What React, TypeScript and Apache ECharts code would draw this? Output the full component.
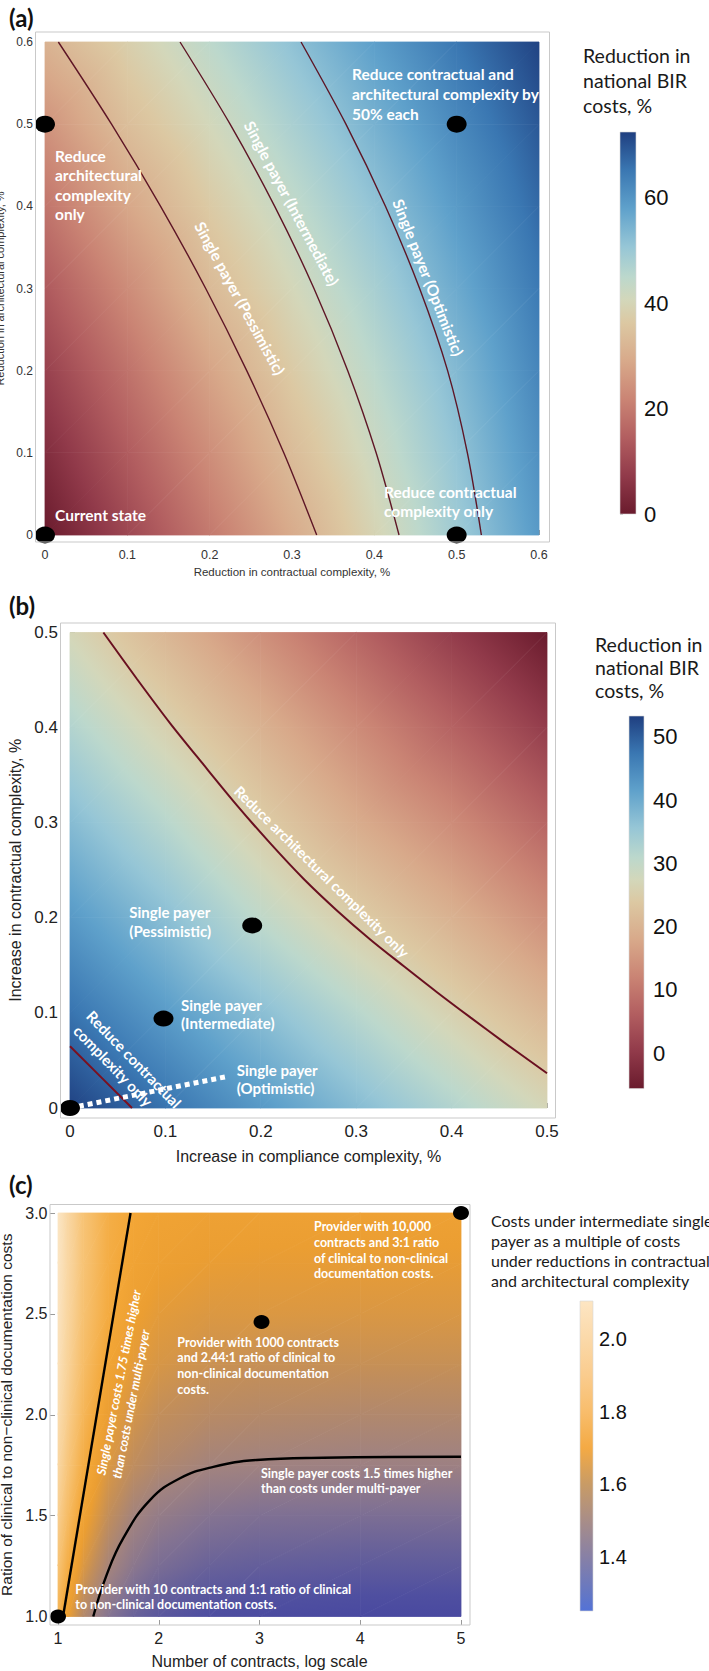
import React, { useEffect, useRef } from "react";
import * as echarts from "echarts";

// ================= Panel (a) data =================
const aXValues = [0, 0.1, 0.2, 0.3, 0.4, 0.5, 0.6];
const aYValues = [0, 0.1, 0.2, 0.3, 0.4, 0.5, 0.6];
// rows follow aYValues, columns follow aXValues (reduction in national BIR costs, %)
const aCells = [
  [0.0, 9.8, 19.7, 29.5, 39.4, 49.3, 59.3],
  [4.2, 14.0, 23.7, 33.4, 42.2, 51.1, 61.0],
  [8.7, 18.4, 28.1, 36.9, 45.0, 53.3, 62.8],
  [13.6, 23.3, 32.9, 40.4, 48.0, 56.2, 64.8],
  [18.9, 28.6, 36.8, 43.9, 51.3, 59.1, 67.0],
  [24.7, 33.8, 40.7, 47.7, 54.8, 62.1, 69.3],
  [31.3, 38.1, 44.8, 51.6, 58.4, 65.2, 72.0],
];
const aPessimistic = [[0.33, 0], [0.29, 0.1], [0.245, 0.2], [0.1952, 0.3], [0.1404, 0.4], [0.0808, 0.5], [0.0162, 0.6]];
const aIntermediate = [[0.43, 0], [0.4022, 0.1], [0.3677, 0.2], [0.3267, 0.3], [0.279, 0.4], [0.2248, 0.5], [0.164, 0.6]];
const aOptimistic = [[0.53, 0], [0.513, 0.1], [0.489, 0.2], [0.455, 0.3], [0.4135, 0.4], [0.3655, 0.5], [0.311, 0.6]];
const aScenarios = [[0, 0], [0, 0.5], [0.5, 0], [0.5, 0.5]];
const aLegendRange = [0, 72.5];
const aLegendLabels = [0, 20, 40, 60];
const aLegendTicks = [0, 10, 20, 30, 40, 50, 60, 70];

// ================= Panel (b) data =================
const bXValues = [0, 0.1, 0.2, 0.3, 0.4, 0.5];
const bYValues = [0, 0.1, 0.2, 0.3, 0.4, 0.5];
const bCells = [
  [53.0, 47.8, 42.6, 37.4, 32.2, 27.0],
  [47.8, 42.3, 36.9, 31.4, 25.9, 20.4],
  [42.6, 36.9, 30.4, 24.8, 19.6, 13.9],
  [37.4, 31.4, 24.8, 18.6, 13.3, 7.3],
  [32.2, 25.9, 19.6, 13.3, 7.0, 0.7],
  [27.0, 20.4, 13.9, 7.3, 0.7, -5.6],
];
const bArchitecturalOnly = [[0.035, 0.5], [0.07, 0.4514], [0.105, 0.4045], [0.14, 0.361], [0.175, 0.3183], [0.21, 0.2782], [0.245, 0.2408], [0.28, 0.2075], [0.315, 0.177], [0.35, 0.149], [0.385, 0.1215], [0.42, 0.095], [0.455, 0.069], [0.5, 0.0365]];
const bContractualOnly = [[0, 0.065], [0.0325, 0.0325], [0.065, 0]];
const bOptimisticLink = [[0, 0], [0.164, 0.033]];
const bScenarios = [[0, 0], [0.098, 0.094], [0.191, 0.192]];
const bLegendRange = [-5.6, 53.3];
const bLegendLabels = [0, 10, 20, 30, 40, 50];
const bLegendTicks = [-5, 0, 5, 10, 15, 20, 25, 30, 35, 40, 45, 50];

// ================= Panel (c) data =================
const cXValues = [1, 1.1, 1.25, 1.5, 1.75, 2, 2.5, 3, 4, 5];
const cYValues = [1, 1.25, 1.5, 1.75, 2, 2.25, 2.5, 2.75, 3];
const cCells = [
  [1.81, 1.70, 1.56, 1.41, 1.31, 1.25, 1.19, 1.17, 1.15, 1.15],
  [1.88, 1.78, 1.66, 1.52, 1.43, 1.37, 1.31, 1.29, 1.27, 1.27],
  [1.94, 1.84, 1.73, 1.60, 1.51, 1.46, 1.41, 1.39, 1.38, 1.38],
  [1.99, 1.89, 1.78, 1.66, 1.59, 1.55, 1.51, 1.50, 1.49, 1.49],
  [2.03, 1.93, 1.82, 1.70, 1.64, 1.60, 1.57, 1.56, 1.55, 1.55],
  [2.06, 1.96, 1.85, 1.74, 1.68, 1.65, 1.62, 1.61, 1.61, 1.61],
  [2.08, 1.98, 1.87, 1.77, 1.71, 1.68, 1.66, 1.66, 1.655, 1.655],
  [2.095, 1.99, 1.88, 1.78, 1.73, 1.71, 1.695, 1.69, 1.69, 1.69],
  [2.10, 1.99, 1.88, 1.785, 1.75, 1.73, 1.72, 1.72, 1.72, 1.72],
];
const cLine175 = [[1.05, 1.0], [1.72, 3.0]];
const cLine150 = [[1.35, 1.0], [1.483, 1.206], [1.648, 1.388], [1.913, 1.577], [2.211, 1.685], [2.542, 1.742], [2.972, 1.776], [3.633, 1.787], [5, 1.792]];
const cScenarios = [[1, 1], [3.02, 2.46], [5, 3]];
const cLegendRange = [1.253, 2.103];
const cLegendLabels = [1.4, 1.6, 1.8, 2.0];
const cLegendTicks = [1.3, 1.35, 1.4, 1.45, 1.5, 1.55, 1.6, 1.65, 1.7, 1.75, 1.8, 1.85, 1.9, 1.95, 2.0, 2.05, 2.1];

// ================= Colour scales =================
const redBlueTonesPos = [0, 0.1, 0.2, 0.3, 0.4, 0.5, 0.56, 0.62, 0.7, 0.8, 0.9, 1];
const redBlueTonesHex = ["#6a1b2d", "#913a4a", "#b25e60", "#ca8474", "#d8a98a", "#dcc8a2", "#d3d7ba", "#bcd8cc", "#96c6d6", "#5fa1cb", "#3a77b2", "#1f3f80"];
const cHeatStops = [1.1, 1.2, 1.3, 1.4, 1.5, 1.6, 1.7, 1.75, 1.85, 1.95, 2.05, 2.12];
const cHeatHex = ["#4444a0", "#4f4fa0", "#66609a", "#827292", "#a08280", "#c28e5a", "#eb9e32", "#f3a636", "#f6bd68", "#f8d094", "#fadfb6", "#fbe7c8"];
const cBarStops = [1.25, 1.3, 1.4, 1.5, 1.6, 1.7, 1.8, 1.9, 2.0, 2.1];
const cBarHex = ["#5272d8", "#6477c4", "#8780a6", "#a88d88", "#c89b66", "#f4aa44", "#f8bd6c", "#facc8e", "#fbd9a9", "#fde5c2"];

const FONT_CAL = "Lato, 'Noto Sans', sans-serif";
const FONT_ARIAL = "'Liberation Sans', Arial, sans-serif";

type CMap = { vals: number[]; cols: number[][] };
function parseHex(h: string) {
  const n = parseInt(h.slice(1), 16);
  return [(n >> 16) & 255, (n >> 8) & 255, n & 255];
}
function makeCMap(vals: number[], hex: string[]): CMap {
  return { vals, cols: hex.map(parseHex) };
}
function scaledCMap(range: number[], pos: number[], hex: string[]): CMap {
  return makeCMap(pos.map((t) => range[0] + t * (range[1] - range[0])), hex);
}
function colorAt(cm: CMap, v: number): string {
  const { vals, cols } = cm;
  const rgb = (c: number[]) => `rgb(${Math.round(c[0])},${Math.round(c[1])},${Math.round(c[2])})`;
  if (v <= vals[0]) return rgb(cols[0]);
  if (v >= vals[vals.length - 1]) return rgb(cols[cols.length - 1]);
  for (let k = 0; k < vals.length - 1; k++) {
    if (v <= vals[k + 1]) {
      const t = (v - vals[k]) / (vals[k + 1] - vals[k]);
      return rgb([0, 1, 2].map((q) => cols[k][q] + (cols[k + 1][q] - cols[k][q]) * t));
    }
  }
  return rgb(cols[cols.length - 1]);
}
function gradientStops(cm: CMap, lo: number, hi: number) {
  const stops = [{ offset: 0, color: colorAt(cm, lo) }];
  for (const s of cm.vals) if (s > lo && s < hi) stops.push({ offset: (s - lo) / (hi - lo), color: colorAt(cm, s) });
  stops.push({ offset: 1, color: colorAt(cm, hi) });
  return stops;
}
function triFill(cm: CMap, p0: number[], p1: number[], p2: number[]): any {
  const e1x = p1[0] - p0[0], e1y = p1[1] - p0[1], e2x = p2[0] - p0[0], e2y = p2[1] - p0[1];
  const d1 = p1[2] - p0[2], d2 = p2[2] - p0[2];
  const det = e1x * e2y - e1y * e2x;
  const lo = Math.min(p0[2], p1[2], p2[2]);
  const hi = Math.max(p0[2], p1[2], p2[2]);
  if (Math.abs(det) < 1e-9 || hi - lo < 1e-7) return colorAt(cm, (p0[2] + p1[2] + p2[2]) / 3);
  const gx = (d1 * e2y - e1y * d2) / det;
  const gy = (e1x * d2 - d1 * e2x) / det;
  const g2 = gx * gx + gy * gy;
  const a = (lo - p0[2]) / g2, b = (hi - p0[2]) / g2;
  return {
    type: "linear", global: true,
    x: p0[0] + gx * a, y: p0[1] + gy * a, x2: p0[0] + gx * b, y2: p0[1] + gy * b,
    colorStops: gradientStops(cm, lo, hi),
  };
}

function heatSeries(idx: number, xs: number[], ys: number[], cells: number[][], cm: CMap) {
  const data: number[][] = [];
  for (let j = 0; j < ys.length - 1; j++) for (let i = 0; i < xs.length - 1; i++) data.push([xs[i], ys[j], i, j]);
  return {
    type: "custom", xAxisIndex: idx, yAxisIndex: idx, silent: true, z: 1, clip: false, data,
    renderItem: (_p: any, api: any) => {
      const i = api.value(2), j = api.value(3);
      const pt = (ii: number, jj: number) => {
        const c = api.coord([xs[ii], ys[jj]]);
        return [c[0], c[1], cells[jj][ii]];
      };
      const A = pt(i, j), B = pt(i + 1, j), C = pt(i + 1, j + 1), D = pt(i, j + 1);
      const tri = (p0: number[], p1: number[], p2: number[]) => ({
        type: "polygon",
        shape: { points: [[p0[0], p0[1]], [p1[0], p1[1]], [p2[0], p2[1]]] },
        style: { fill: triFill(cm, p0, p1, p2), stroke: triFill(cm, p0, p1, p2), lineWidth: 0.8 },
      });
      return { type: "group", children: [tri(A, B, C), tri(A, C, D)] };
    },
  };
}

function barSeries(idx: number, range: number[], cm: CMap) {
  return {
    type: "custom", xAxisIndex: idx, yAxisIndex: idx, silent: true, clip: false, z: 1,
    data: [[0, range[0], 1, range[1]]],
    renderItem: (_p: any, api: any) => {
      const lo = api.coord([api.value(0), api.value(1)]);
      const hi = api.coord([api.value(2), api.value(3)]);
      const stops = gradientStops(cm, range[0], range[1]).map((s) => ({ offset: 1 - s.offset, color: s.color })).reverse();
      return {
        type: "rect",
        shape: { x: lo[0], y: hi[1], width: hi[0] - lo[0], height: lo[1] - hi[1] },
        style: { fill: { type: "linear", x: 0, y: 0, x2: 0, y2: 1, colorStops: stops }, stroke: "#d6d6d6", lineWidth: 0.6 },
      };
    },
  };
}

function lineSeries(idx: number, data: number[][], color: string, width: number, smooth: number, extra: any = {}) {
  return {
    type: "line", xAxisIndex: idx, yAxisIndex: idx, data, showSymbol: false, symbol: "none", silent: true,
    smooth, z: 3, clip: true,
    lineStyle: { color, width, ...extra },
  };
}
function dotSeries(idx: number, data: number[][], size: number[]) {
  return {
    type: "scatter", xAxisIndex: idx, yAxisIndex: idx, data, symbol: "circle", symbolSize: size,
    itemStyle: { color: "#000", opacity: 1 }, z: 6, clip: false, silent: true,
  };
}

function plotAxis(kind: "x" | "y", idx: number, o: any) {
  return {
    type: "value", gridIndex: idx, min: o.min, max: o.max, interval: o.interval,
    position: kind === "x" ? "bottom" : "left", offset: o.offset,
    axisLine: { show: false }, splitLine: { show: false },
    axisTick: { show: true, inside: true, length: 5, lineStyle: { color: "#9a9a9a", width: 1 } },
    axisLabel: { show: true, margin: o.margin, color: o.color || "#222", fontFamily: o.font, fontSize: o.size, formatter: o.fmt },
    name: o.name, nameLocation: "middle", nameGap: o.nameGap,
    nameTextStyle: { color: o.color || "#222", fontFamily: o.font, fontSize: o.nameSize },
  };
}
function barAxes(idx: number, range: number[], labels: number[], ticks: number[], size: number, margin: number, fmt?: any) {
  return {
    x: { type: "value", gridIndex: idx, min: 0, max: 1, show: false },
    y: {
      type: "value", gridIndex: idx, min: range[0], max: range[1], position: "right",
      axisLine: { show: false }, splitLine: { show: false },
      axisTick: { show: true, length: 3, customValues: ticks, lineStyle: { color: "#c8c8c8" } },
      axisLabel: { show: true, customValues: labels, margin, color: "#111", fontFamily: FONT_ARIAL, fontSize: size, formatter: fmt },
    },
  };
}

function txt(x: number, y: number, text: string, font: string, o: any = {}) {
  return {
    type: "text", x, y, z: 50, silent: true, rotation: ((o.rot || 0) * Math.PI) / 180,
    style: {
      text, font, fill: o.fill || "#fff", align: o.align || "left", verticalAlign: o.va || "top",
      lineHeight: o.lh,
    },
  };
}
function frame(x: number, y: number, w: number, h: number) {
  return { type: "rect", z: 40, silent: true, shape: { x, y, width: w, height: h }, style: { fill: "none", stroke: "#c9c9c9", lineWidth: 1 } };
}

function buildOption() {
  const cmA = scaledCMap(aLegendRange, redBlueTonesPos, redBlueTonesHex);
  const cmB = scaledCMap(bLegendRange, redBlueTonesPos, redBlueTonesHex);
  const cmC = makeCMap(cHeatStops, cHeatHex);
  const cmCBar = makeCMap(cBarStops, cBarHex);
  const one = (v: number) => v.toFixed(1);

  const barA = barAxes(1, aLegendRange, aLegendLabels, aLegendTicks, 22, 8);
  const barB = barAxes(3, bLegendRange, bLegendLabels, bLegendTicks, 22, 9);
  const barC = barAxes(5, cLegendRange, cLegendLabels, cLegendTicks, 20, 6, one);

  const B15 = `bold 15.5px ${FONT_CAL}`;
  const B15b = `bold 15px ${FONT_CAL}`;
  const B12 = `bold 12.5px ${FONT_CAL}`;
  const I12 = `italic bold 12.5px ${FONT_CAL}`;
  const PANEL = `bold 24px ${FONT_CAL}`;

  return {
    animation: false,
    backgroundColor: "#ffffff",
    grid: [
      { left: 45, top: 42, width: 494, height: 493, containLabel: false, outerBoundsMode: "none" },
      { left: 620, top: 132, width: 16, height: 382, containLabel: false, outerBoundsMode: "none" },
      { left: 70, top: 632.5, width: 477, height: 475.5, containLabel: false, outerBoundsMode: "none" },
      { left: 629, top: 716, width: 15, height: 372.6, containLabel: false, outerBoundsMode: "none" },
      { left: 58, top: 1213, width: 403, height: 403.5, containLabel: false, outerBoundsMode: "none" },
      { left: 580, top: 1301, width: 13, height: 310, containLabel: false, outerBoundsMode: "none" },
    ],
    xAxis: [
      plotAxis("x", 0, { min: 0, max: 0.6, interval: 0.1, offset: 7, margin: 6, font: FONT_ARIAL, size: 12.5, color: "#333", name: "Reduction in contractual complexity, %", nameSize: 11.5, nameGap: 24 }),
      barA.x,
      plotAxis("x", 2, { min: 0, max: 0.5, interval: 0.1, offset: 10, margin: 5, font: FONT_ARIAL, size: 17, name: "Increase in compliance complexity, %", nameSize: 16, nameGap: 30 }),
      barB.x,
      plotAxis("x", 4, { min: 1, max: 5, interval: 1, offset: 8.5, margin: 5, font: FONT_ARIAL, size: 16, name: "Number of contracts, log scale", nameSize: 16, nameGap: 28 }),
      barC.x,
    ],
    yAxis: [
      plotAxis("y", 0, { min: 0, max: 0.6, interval: 0.1, offset: 10, margin: 2, font: FONT_ARIAL, size: 12, color: "#333", name: "Reduction in architectural complexity, %", nameSize: 11, nameGap: 17 }),
      barA.y,
      plotAxis("y", 2, { min: 0, max: 0.5, interval: 0.1, offset: 10, margin: 2, font: FONT_ARIAL, size: 17, name: "Increase in contractual complexity, %", nameSize: 16, nameGap: 33 }),
      barB.y,
      plotAxis("y", 4, { min: 1, max: 3, interval: 0.5, offset: 8, margin: 2.5, font: FONT_ARIAL, size: 16, fmt: one, name: "Ration of clinical to non\u2212clinical documentation costs", nameSize: 15.5, nameGap: 25.5 }),
      barC.y,
    ],
    series: [
      heatSeries(0, aXValues, aYValues, aCells, cmA),
      lineSeries(0, aPessimistic, "#5e1626", 1.4, 0.3),
      lineSeries(0, aIntermediate, "#5e1626", 1.4, 0.3),
      lineSeries(0, aOptimistic, "#5e1626", 1.4, 0.3),
      dotSeries(0, aScenarios, [20, 17]),
      barSeries(1, aLegendRange, cmA),

      heatSeries(2, bXValues, bYValues, bCells, cmB),
      lineSeries(2, bArchitecturalOnly, "#6a1020", 2, 0.3),
      lineSeries(2, bContractualOnly, "#7a1020", 2, 0),
      { ...lineSeries(2, bOptimisticLink, "#ffffff", 5, 0, { type: [5, 4], cap: "butt" }), z: 4 },
      dotSeries(2, bScenarios, [20, 16]),
      barSeries(3, bLegendRange, cmB),

      heatSeries(4, cXValues, cYValues, cCells, cmC),
      lineSeries(4, cLine175, "#000000", 2.4, 0),
      lineSeries(4, cLine150, "#000000", 2.4, 0.45),
      dotSeries(4, cScenarios, [16, 14]),
      barSeries(5, cLegendRange, cmCBar),
    ],
    graphic: {
      elements: [
        frame(35.5, 32, 514, 510),
        frame(60.5, 623, 495, 495),
        frame(50, 1204.5, 420, 420.5),

        // panel (a)
        txt(9, 5, "(a)", PANEL, { fill: "#111" }),
        txt(583, 42.5, "Reduction in\nnational BIR\ncosts, %", `19.5px ${FONT_CAL}`, { fill: "#1a1a1a", lh: 25 }),
        txt(352, 64, "Reduce contractual and\narchitectural complexity by\n50% each", B15, { lh: 20 }),
        txt(55, 146.5, "Reduce\narchitectural\ncomplexity\nonly", B15, { lh: 19.3 }),
        txt(55, 505, "Current state", B15, { lh: 20 }),
        txt(384, 482, "Reduce contractual\ncomplexity only", B15, { lh: 19.5 }),
        txt(240, 298.3, "Single payer (Pessimistic)", B15, { rot: -61.5, align: "center", va: "middle" }),
        txt(291.7, 203.3, "Single payer (Intermediate)", B15, { rot: -62, align: "center", va: "middle" }),
        txt(428.3, 277.5, "Single payer (Optimistic)", B15, { rot: -68.5, align: "center", va: "middle" }),

        // panel (b)
        txt(9, 593, "(b)", PANEL, { fill: "#111" }),
        txt(595, 632.5, "Reduction in\nnational BIR\ncosts, %", `19.5px ${FONT_CAL}`, { fill: "#1a1a1a", lh: 23 }),
        txt(129.3, 902.5, "Single payer\n(Pessimistic)", B15b, { lh: 19 }),
        txt(181, 996, "Single payer\n(Intermediate)", B15b, { lh: 18 }),
        txt(236.7, 1060.5, "Single payer\n(Optimistic)", B15b, { lh: 18 }),
        txt(321.7, 871.7, "Reduce architectural complexity only", `bold 14.5px ${FONT_CAL}`, { rot: -44.4, align: "center", va: "middle" }),
        txt(134.2, 1059.2, "Reduce contractual", B15b, { rot: -46, align: "center", va: "middle" }),
        txt(113.3, 1065.8, "complexity only", B15b, { rot: -46, align: "center", va: "middle" }),

        // panel (c)
        txt(9, 1172, "(c)", PANEL, { fill: "#111" }),
        txt(491, 1210, "Costs under intermediate single\npayer as a multiple of costs\nunder reductions in contractual\nand architectural complexity", `16px ${FONT_CAL}`, { fill: "#1a1a1a", lh: 20 }),
        txt(314, 1219, "Provider with 10,000\ncontracts and 3:1 ratio\nof clinical to non-clinical\ndocumentation costs.", B12, { lh: 15.7 }),
        txt(177.3, 1334.2, "Provider with 1000 contracts\nand 2.44:1 ratio of clinical to\nnon-clinical documentation\ncosts.", B12, { lh: 15.7 }),
        txt(261, 1466, "Single payer costs 1.5 times higher\nthan costs under multi-payer", B12, { lh: 15.3 }),
        txt(75.3, 1581.8, "Provider with 10 contracts and 1:1 ratio of clinical\nto non-clinical documentation costs.", B12, { lh: 15 }),
        txt(118.7, 1382.5, "Single payer costs 1.75 times higher", I12, { rot: 79, align: "center", va: "middle" }),
        txt(131, 1404, "than costs under multi-payer", I12, { rot: 79, align: "center", va: "middle" }),
      ],
    },
  };
}

export default function App() {
  const ref = useRef<HTMLDivElement>(null);
  useEffect(() => {
    if (!ref.current) return;
    const chart = echarts.init(ref.current, undefined, { renderer: "svg" });
    chart.setOption(buildOption() as any);
    return () => chart.dispose();
  }, []);
  return (
    <div
      ref={ref}
      style={{ position: "absolute", left: 0, top: 0, width: 709, height: 1671, background: "#fff" }}
    />
  );
}
